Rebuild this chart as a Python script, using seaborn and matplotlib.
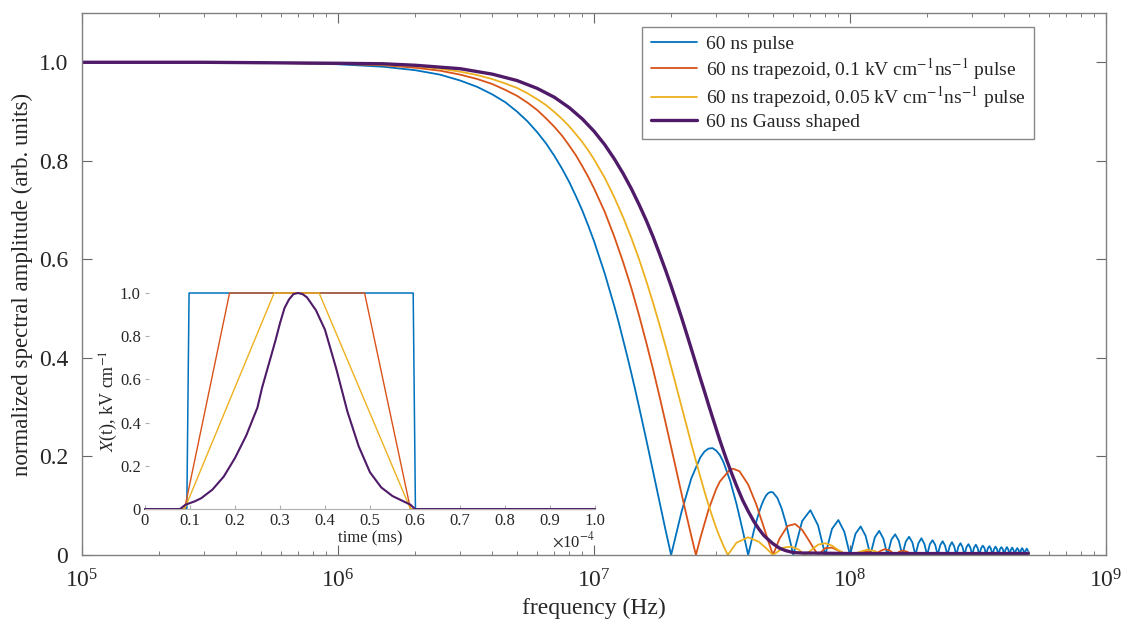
import numpy as np
import matplotlib
matplotlib.use("Agg")
import matplotlib.pyplot as plt
import seaborn as sns

# --- spectra: frequency in MHz, normalized amplitude ---
blue_f = [0.1, 0.3, 0.5, 0.7, 1, 1.5, 2, 2.5, 3, 3.5, 4, 4.5, 5, 5.5, 6, 6.5, 7, 7.5, 8, 8.5,
          9, 9.5, 10, 10.5, 11, 11.5, 12, 12.5, 13, 13.5, 14, 14.5, 15, 16, 17, 18, 19, 20,
          22, 24, 26, 27, 28, 29, 30, 31, 32, 34, 36, 38, 40,
          41, 42, 43, 44, 45, 46, 47, 48, 49, 50, 52, 54, 56, 58, 59, 60,
          65, 70, 75, 80, 85, 90, 95, 100, 105, 110, 115, 120, 125, 130, 135, 140,
          145, 150, 155, 160, 165, 170, 175, 180, 185, 190, 195, 200,
          205, 210, 215, 220, 225, 230, 235, 240, 245, 250, 255, 260,
          265, 270, 275, 280, 285, 290, 295, 300, 305, 310, 315, 320,
          325, 330, 335, 340, 345, 350, 355, 360, 365, 370, 375, 380,
          385, 390, 395, 400, 405, 410, 415, 420, 425, 430, 435, 440,
          445, 450, 455, 460, 465, 470, 475, 480, 485, 490, 496]
blue_a = [1.0, 1.0, 0.999, 0.998, 0.996, 0.991, 0.984, 0.975, 0.963, 0.950, 0.935, 0.919,
          0.900, 0.880, 0.858, 0.835, 0.810, 0.784, 0.757, 0.728, 0.699, 0.668, 0.637,
          0.604, 0.572, 0.538, 0.505, 0.471, 0.436, 0.402, 0.368, 0.334, 0.300, 0.234,
          0.170, 0.109, 0.052, 0.0,
          0.089, 0.156, 0.198, 0.210, 0.216, 0.217, 0.212, 0.203, 0.189, 0.151, 0.104,
          0.052, 0.0,
          0.024, 0.047, 0.067, 0.085, 0.100, 0.112, 0.121, 0.126, 0.128, 0.127, 0.116,
          0.095, 0.067, 0.034, 0.017, 0.0,
          0.069, 0.091, 0.060, 0.0, 0.053, 0.071, 0.047, 0.0, 0.043, 0.058, 0.039, 0.0,
          0.036, 0.049, 0.033, 0.0,
          0.031, 0.042, 0.029, 0.0, 0.027, 0.037, 0.026, 0.0, 0.024, 0.034, 0.023, 0.0,
          0.022, 0.030, 0.021, 0.0, 0.020, 0.028, 0.019, 0.0, 0.018, 0.026, 0.018, 0.0,
          0.017, 0.024, 0.016, 0.0, 0.016, 0.022, 0.015, 0.0, 0.015, 0.021, 0.014, 0.0,
          0.014, 0.019, 0.014, 0.0, 0.013, 0.018, 0.013, 0.0, 0.012, 0.017, 0.012, 0.0,
          0.012, 0.016, 0.012, 0.0, 0.011, 0.016, 0.011, 0.0, 0.011, 0.015, 0.010, 0.0,
          0.010, 0.014, 0.010, 0.0, 0.010, 0.014, 0.010, 0.0, 0.009, 0.013, 0.008]

red_f = [0.1, 0.3, 0.5, 1, 1.5, 2, 2.5, 3, 3.5, 4, 4.5, 5, 5.5, 6, 6.5, 7, 7.5, 8, 8.5, 9,
         9.5, 10, 11, 12, 13, 14, 15, 16, 17, 18, 19, 20, 21, 22, 23, 24, 25,
         26, 28, 30, 31, 34, 35, 37, 40, 43, 46, 48, 50,
         53, 57, 61, 65, 69, 72, 75,
         80, 85, 90, 95, 100, 105, 110, 115, 120, 125,
         131, 137, 143, 150, 156, 162, 168, 175,
         187, 200, 212, 225, 237, 250, 262, 275, 287, 300, 496]
red_a = [1.0, 1.0, 0.999, 0.997, 0.994, 0.989, 0.983, 0.975, 0.966, 0.956, 0.944, 0.932,
         0.918, 0.903, 0.886, 0.869, 0.851, 0.831, 0.811, 0.789, 0.767, 0.744, 0.697,
         0.646, 0.594, 0.541, 0.486, 0.431, 0.377, 0.323, 0.270, 0.219, 0.170, 0.123,
         0.079, 0.038, 0.0,
         0.034, 0.092, 0.134, 0.149, 0.174, 0.175, 0.170, 0.143, 0.103, 0.057, 0.027, 0.0,
         0.033, 0.059, 0.063, 0.051, 0.030, 0.014, 0.0,
         0.014, 0.015, 0.009, 0.003, 0.0, 0.002, 0.006, 0.008, 0.006, 0.0,
         0.008, 0.012, 0.009, 0.0, 0.007, 0.009, 0.006, 0.0,
         0.003, 0.0, 0.002, 0.0, 0.004, 0.0, 0.003, 0.0, 0.001, 0.0, 0.0]

yellow_f = [0.1, 0.3, 0.5, 1, 1.5, 2, 2.5, 3, 3.5, 4, 4.5, 5, 5.5, 6, 6.5, 7, 7.5, 8, 8.5,
            9, 9.5, 10, 11, 12, 13, 14, 15, 16, 17, 18, 19, 20, 21, 22, 23, 24, 25, 26,
            27, 28, 29, 30, 31, 32, 33.3,
            36, 40, 44, 47, 50,
            55, 59, 63, 66.7,
            75, 80, 85, 90, 95, 100,
            110, 117, 125, 133.3,
            142, 150, 158, 166.7, 175, 183, 192, 200, 496]
yellow_a = [1.0, 1.0, 0.999, 0.998, 0.995, 0.992, 0.987, 0.981, 0.974, 0.966, 0.957, 0.948,
            0.937, 0.925, 0.913, 0.899, 0.885, 0.870, 0.854, 0.838, 0.821, 0.803, 0.766,
            0.726, 0.685, 0.643, 0.600, 0.556, 0.512, 0.468, 0.425, 0.382, 0.340, 0.300,
            0.262, 0.225, 0.191, 0.159, 0.129, 0.102, 0.077, 0.055, 0.036, 0.019, 0.0,
            0.025, 0.036, 0.027, 0.014, 0.0,
            0.015, 0.017, 0.011, 0.0,
            0.021, 0.024, 0.019, 0.010, 0.003, 0.0,
            0.007, 0.011, 0.008, 0.0,
            0.003, 0.0, 0.002, 0.0, 0.004, 0.004, 0.002, 0.0, 0.0]

purple_f = [0.1, 0.3, 1, 1.5, 2, 3, 4, 5, 6, 7, 8, 9, 10, 11, 12, 13, 14, 15, 16, 17, 18,
            19, 20, 21, 22, 23, 24, 25, 26, 27, 28, 29, 30, 31, 32, 33, 34, 35, 36, 38,
            40, 42, 44, 46, 48, 50, 53, 56, 60, 65, 70, 100, 200, 496]
purple_a = [1.0, 1.0, 0.998, 0.997, 0.994, 0.987, 0.976, 0.963, 0.947, 0.929, 0.908, 0.885,
            0.860, 0.833, 0.804, 0.774, 0.743, 0.711, 0.679, 0.646, 0.612, 0.579, 0.546,
            0.513, 0.481, 0.449, 0.418, 0.388, 0.359, 0.332, 0.305, 0.280, 0.256, 0.233,
            0.212, 0.192, 0.174, 0.157, 0.141, 0.112, 0.089, 0.069, 0.053, 0.040, 0.031,
            0.023, 0.014, 0.009, 0.005, 0.004, 0.004, 0.003, 0.003, 0.003]

# --- inset pulses: time in units of 1e-4 ms, field in kV/cm ---
pulse_t = [0, 0.093, 0.098, 0.596, 0.601, 1.0]
pulse_x = [0, 0, 1, 1, 0, 0]
trap1_t = [0, 0.088, 0.188, 0.488, 0.59, 1.0]
trap1_x = [0, 0, 1, 1, 0, 0]
trap2_t = [0, 0.088, 0.287, 0.387, 0.59, 1.0]
trap2_x = [0, 0, 1, 1, 0, 0]
gauss_t = [0, 0.078, 0.09, 0.11, 0.125, 0.15, 0.175, 0.2, 0.225, 0.25, 0.26, 0.275, 0.29,
           0.3, 0.31, 0.32, 0.33, 0.34, 0.35, 0.36, 0.38, 0.4, 0.425, 0.45, 0.475, 0.5,
           0.525, 0.55, 0.575, 0.59, 0.6, 1.0]
gauss_x = [0, 0, 0.02, 0.035, 0.05, 0.09, 0.15, 0.236, 0.34, 0.47, 0.56, 0.67, 0.78,
           0.86, 0.93, 0.97, 0.995, 1.0, 0.995, 0.98, 0.92, 0.83, 0.65, 0.45, 0.29, 0.17,
           0.10, 0.06, 0.035, 0.02, 0, 0]

labels = ["60 ns pulse",
          "60 ns trapezoid, 0.1 kV cm$^{-1}$ns$^{-1}$ pulse",
          "60 ns trapezoid, 0.05 kV cm$^{-1}$ns$^{-1}$ pulse",
          "60 ns Gauss shaped"]
colors = ["#0072BD", "#D95319", "#EDB120", "#4f1a68"]
widths = [1.3, 1.3, 1.3, 2.4]

sns.set_style("ticks")
plt.rcParams["font.family"] = ["Liberation Serif", "DejaVu Serif"]
plt.rcParams["mathtext.fontset"] = "stix"

fig = plt.figure(figsize=(11.22, 6.2), dpi=100)
ax = fig.add_axes([0.0731, 0.1048, 0.9127, 0.8742])
ax.set_xscale("log")

spectra = [(blue_f, blue_a), (red_f, red_a), (yellow_f, yellow_a), (purple_f, purple_a)]
for (f, a), lab, c, lw in zip(spectra, labels, colors, widths):
    sns.lineplot(x=np.array(f) * 1e6, y=a, ax=ax, color=c, lw=lw, label=lab,
                 estimator=None, sort=False)

ax.set_xlim(1e5, 1e9)
ax.set_ylim(0, 1.1)
ax.set_yticks([0, 0.2, 0.4, 0.6, 0.8, 1.0])
ax.set_yticklabels(["0", "0.2", "0.4", "0.6", "0.8", "1.0"])
ax.tick_params(which="both", direction="in", top=True, right=True, color="#666666")
ax.tick_params(which="major", length=7, labelsize=17)
ax.tick_params(which="minor", length=3)
ax.tick_params(axis="y", pad=10)
ax.tick_params(axis="x", pad=10)
for s in ax.spines.values():
    s.set_color("#808080")
    s.set_linewidth(1)
ax.set_xlabel("frequency (Hz)", fontsize=17)
ax.set_ylabel("normalized spectral amplitude (arb. units)", fontsize=16.5)

leg = ax.legend(loc="upper right", bbox_to_anchor=(0.9297, 0.974), borderaxespad=0,
                fontsize=14, frameon=True, fancybox=False, framealpha=1,
                edgecolor="#888888", handlelength=2.4, handletextpad=0.45,
                labelspacing=0.14, borderpad=0.42)
leg.get_frame().set_linewidth(1)

# inset with the pulse shapes
ins = fig.add_axes([0.1292, 0.179, 0.4011, 0.3484])
ins.set_facecolor("none")
pulses = [(pulse_t, pulse_x), (trap1_t, trap1_x), (trap2_t, trap2_x), (gauss_t, gauss_x)]
for (t, x), c, lw in zip(pulses, colors, [1.1, 1.0, 1.0, 1.5]):
    sns.lineplot(x=t, y=x, ax=ins, color=c, lw=lw, estimator=None, sort=False, legend=False)
for line in ins.lines:
    line.set_clip_on(False)
ins.set_xlim(0, 1.0)
ins.set_ylim(0, 1.0)
ins.set_xticks(np.arange(0, 1.01, 0.1))
ins.set_xticklabels(["0"] + [f"{v:.1f}" for v in np.arange(0.1, 1.01, 0.1)])
ins.set_yticks([0, 0.2, 0.4, 0.6, 0.8, 1.0])
ins.set_yticklabels(["0", "0.2", "0.4", "0.6", "0.8", "1.0"])
for side in ["top", "right", "left"]:
    ins.spines[side].set_visible(False)
ins.spines["bottom"].set_color("#b0b0b0")
ins.tick_params(direction="in", length=3, color="#b0b0b0", labelsize=12, pad=3)
ins.set_xlabel("time (ms)", fontsize=12, labelpad=1)
ins.set_ylabel("$X$(t), kV cm$^{-1}$", fontsize=13, labelpad=0)
ins.text(1.0, -0.10, r"$\times$10$^{-4}$", transform=ins.transAxes, ha="right", va="top",
         fontsize=12)

fig.savefig("out.png", dpi=100)
